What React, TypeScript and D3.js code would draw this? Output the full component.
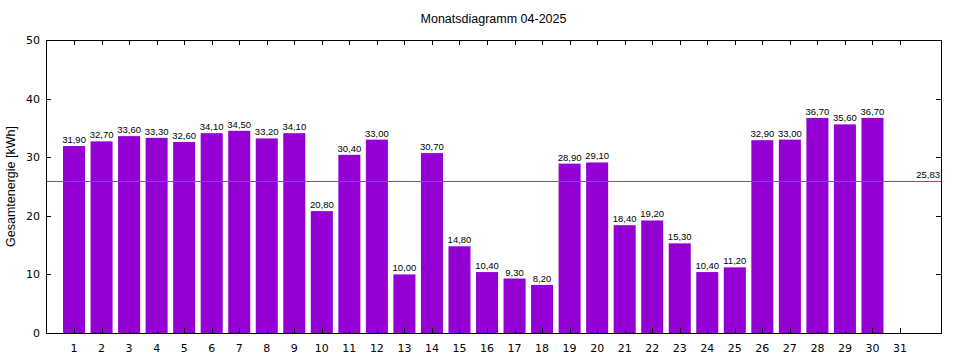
import React from "react";
import * as d3 from "d3";

const days: number[] = Array.from({ length: 31 }, (_, i) => i + 1);
const values: number[] = [31.9, 32.7, 33.6, 33.3, 32.6, 34.1, 34.5, 33.2, 34.1, 20.8, 30.4, 33.0, 10.0, 30.7, 14.8, 10.4, 9.3, 8.2, 28.9, 29.1, 18.4, 19.2, 15.3, 10.4, 11.2, 32.9, 33.0, 36.7, 35.6, 36.7];
const yTicks: number[] = [0, 10, 20, 30, 40, 50];
const average = 25.83;
const title = "Monatsdiagramm 04-2025";
const yLabel = "Gesamtenergie [kWh]";

const fmt = (v: number) => v.toFixed(2).replace(".", ",");

export default function App() {
  const W = 960, H = 360;
  const L = 46, R = 941, T = 40, B = 333;
  const x = d3.scaleLinear().domain([0, 32.5]).range([L + 0.5, R + 0.3]);
  const y = d3.scaleLinear().domain([0, 50]).range([B, T]);
  const bw = 0.8 * (x(1) - x(0));
  const tickFont = "'DejaVu Sans', sans-serif";
  const labFont = "'Liberation Sans', Arial, sans-serif";
  const avgY = Math.floor(y(average)) + 0.5;
  return (
    <div style={{ position: "absolute", left: 0, top: 0 }}>
      <svg width={W} height={H} style={{ display: "block" }}>
        <rect width={W} height={H} fill="#fff" />
        {values.map((v, i) => (
          <rect key={i} x={x(days[i]) - bw / 2} y={y(v)} width={bw} height={B - y(v)} fill="#9400D3" />
        ))}
        {values.map((v, i) => (
          <text key={"l" + i} x={x(days[i])} y={y(v) - 3} textAnchor="middle" fontSize={9.5} fontFamily={labFont} fill="#000">
            {fmt(v)}
          </text>
        ))}
        <line x1={L} x2={R} y1={avgY} y2={avgY} stroke="#1f8a70" strokeWidth={1} />
        <text x={R - 1} y={avgY - 3.5} textAnchor="end" fontSize={9.5} fontFamily={labFont} fill="#000">
          {fmt(average)}
        </text>
        <rect x={L + 0.5} y={T + 0.5} width={R - L} height={B - T} fill="none" stroke="#000" strokeWidth={1} />
        {yTicks.map((t) => (
          <g key={"y" + t}>
            <line x1={L} x2={L + 5} y1={Math.round(y(t)) + 0.5} y2={Math.round(y(t)) + 0.5} stroke="#000" />
            <line x1={R - 5} x2={R} y1={Math.round(y(t)) + 0.5} y2={Math.round(y(t)) + 0.5} stroke="#000" />
            <text x={L - 6} y={y(t) + 4} textAnchor="end" fontSize={11} fontFamily={tickFont} fill="#000">
              {t}
            </text>
          </g>
        ))}
        {days.map((d) => (
          <g key={"x" + d}>
            <line x1={Math.round(x(d)) + 0.5} x2={Math.round(x(d)) + 0.5} y1={B} y2={B - 5} stroke="#000" />
            <line x1={Math.round(x(d)) + 0.5} x2={Math.round(x(d)) + 0.5} y1={T} y2={T + 5} stroke="#000" />
            <text x={x(d)} y={B + 19} textAnchor="middle" fontSize={11} fontFamily={tickFont} fill="#000">
              {d}
            </text>
          </g>
        ))}
        <text x={(L + R) / 2} y={23} textAnchor="middle" fontSize={12.5} fontFamily={labFont} fill="#000">
          {title}
        </text>
        <text transform={`translate(15, ${(T + B) / 2}) rotate(-90)`} textAnchor="middle" fontSize={12.5} fontFamily={labFont} fill="#000">
          {yLabel}
        </text>
      </svg>
    </div>
  );
}
